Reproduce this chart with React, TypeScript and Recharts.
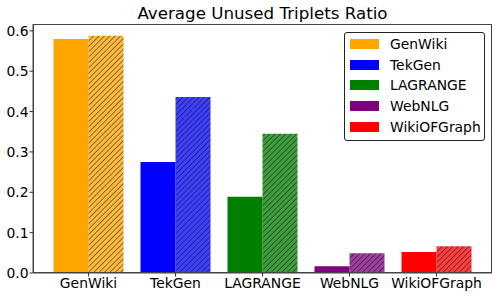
import { Bar, BarChart, Cell, XAxis, YAxis } from 'recharts';

const categories = ['GenWiki', 'TekGen', 'LAGRANGE', 'WebNLG', 'WikiOFGraph'];
const plainValues = [0.58, 0.275, 0.189, 0.017, 0.052];
const hatchedValues = [0.588, 0.436, 0.345, 0.049, 0.066];
const colors = ['#FFA500', '#0000FF', '#008000', '#800080', '#FF0000'];
const yTicks = [0, 0.1, 0.2, 0.3, 0.4, 0.5, 0.6];

const data = categories.map((name, i) => ({
  name,
  plain: plainValues[i],
  hatched: hatchedValues[i],
}));

const FONT = '"DejaVu Sans", sans-serif';
const tickStyle = { fontSize: 13.9, fill: '#000', fontFamily: FONT };

// legend is per category, not per series, so it's drawn by hand
function LegendBox() {
  return (
    <div
      style={{
        position: 'absolute',
        left: 344,
        top: 32,
        width: 139,
        height: 106,
        border: '1px solid #222',
        borderRadius: 3,
        background: '#fff',
        fontFamily: FONT,
        fontSize: 13.9,
        color: '#000',
        paddingTop: 0.5,
      }}
    >
      {categories.map((c, i) => (
        <div key={c} style={{ display: 'flex', alignItems: 'center', height: 20.75 }}>
          <span
            style={{
              display: 'inline-block',
              width: 29,
              height: 10,
              background: colors[i],
              marginLeft: 5,
              marginRight: 11,
            }}
          />
          <span>{c}</span>
        </div>
      ))}
    </div>
  );
}

export default function App() {
  return (
    <div style={{ position: 'absolute', left: 0, top: 0, width: 500, height: 300, background: '#fff' }}>
      <div
        style={{
          position: 'absolute',
          left: 33,
          width: 459,
          top: 5,
          textAlign: 'center',
          fontFamily: FONT,
          fontSize: 16.7,
          lineHeight: 1,
          color: '#000',
        }}
      >
        Average Unused Triplets Ratio
      </div>
      <BarChart
        width={500}
        height={300}
        data={data}
        margin={{ top: 24, right: 8, left: 0, bottom: 0 }}
        barGap={0}
        barCategoryGap={8.5}
      >
        <defs>
          {colors.map((c, i) => (
            <pattern
              key={c}
              id={`hatch-${i}`}
              patternUnits="userSpaceOnUse"
              width={3.8}
              height={3.8}
              patternTransform="rotate(45)"
            >
              <rect width={3.8} height={3.8} fill={c} fillOpacity={0.75} />
              <line x1={0} y1={0} x2={0} y2={3.8} stroke="#000" strokeWidth={0.9} />
            </pattern>
          ))}
        </defs>
        <XAxis
          dataKey="name"
          height={27}
          padding={{ left: 12, right: 12 }}
          tickSize={3.5}
          tickMargin={2}
          tickLine={{ stroke: '#333' }}
          axisLine={{ stroke: '#444' }}
          tick={tickStyle}
          interval={0}
        />
        <YAxis
          width={33}
          domain={[0, 0.617]}
          ticks={yTicks}
          tickSize={3.5}
          tickMargin={1}
          tickFormatter={(v: number) => v.toFixed(1)}
          tickLine={{ stroke: '#333' }}
          axisLine={{ stroke: '#444' }}
          tick={tickStyle}
        />
        <Bar dataKey="plain" isAnimationActive={false}>
          {data.map((d, i) => (
            <Cell key={d.name} fill={colors[i]} />
          ))}
        </Bar>
        <Bar dataKey="hatched" isAnimationActive={false}>
          {data.map((d, i) => (
            <Cell key={d.name} fill={`url(#hatch-${i})`} />
          ))}
        </Bar>
      </BarChart>
      <div
        style={{
          position: 'absolute',
          left: 33,
          top: 24,
          width: 459,
          height: 249,
          border: '1px solid #444',
          boxSizing: 'border-box',
          pointerEvents: 'none',
        }}
      />
      <LegendBox />
    </div>
  );
}
